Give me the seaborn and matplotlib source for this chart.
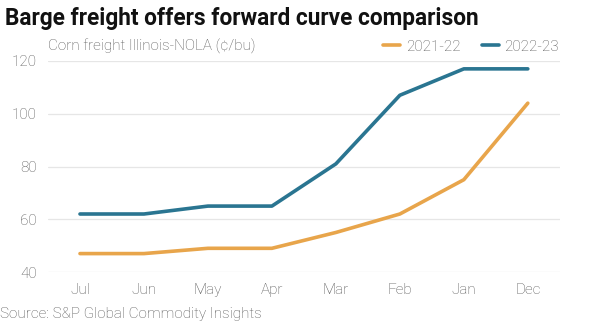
import matplotlib
matplotlib.use("Agg")
import matplotlib.pyplot as plt
import seaborn as sns
import pandas as pd
from matplotlib.lines import Line2D

months = ["Jul", "Jun", "May", "Apr", "Mar", "Feb", "Jan", "Dec"]
s2021 = [47, 47, 49, 49, 55, 62, 75, 104]
s2022 = [62, 62, 65, 65, 81, 107, 117, 117]
series_names = ["2021-22", "2022-23"]
yticks = [40, 60, 80, 100, 120]

sns.set_theme(style="white")
plt.rcParams['font.family'] = ['Roboto', 'DejaVu Sans']

df = pd.DataFrame({
    "month": months * 2,
    "x": list(range(len(months))) * 2,
    "value": s2021 + s2022,
    "series": [series_names[0]] * len(months) + [series_names[1]] * len(months),
})

TXT = "#555555"
fig = plt.figure(figsize=(6, 3.33), dpi=100)
ax = fig.add_axes([0.08, 0.183, 0.853, 0.634])
palette = {"2021-22": "#E8A54B", "2022-23": "#2A7591"}
sns.lineplot(data=df, x="x", y="value", hue="series", palette=palette,
             linewidth=2.6, ax=ax, legend=False)

ax.set_xlim(-0.5, len(months) - 0.5)
ax.set_ylim(40, 120)
ax.set_yticks(yticks)
ax.set_xticks(range(len(months)))
ax.set_xticklabels(months)
ax.grid(axis="y", color="#E6E6E6", linewidth=0.9)
ax.grid(axis="x", visible=False)
for s in ax.spines.values():
    s.set_visible(False)
ax.tick_params(axis="both", length=0, labelsize=11, labelcolor=TXT)
ax.tick_params(axis="y", pad=8)
ax.tick_params(axis="x", pad=8)
for lab in ax.get_xticklabels() + ax.get_yticklabels():
    lab.set_fontweight("light")
ax.set_xlabel("")
ax.set_ylabel("")

fig.text(0.008, 0.945, "Barge freight offers forward curve comparison",
         fontsize=16.3, fontweight="bold", color="#111111", va="center")
fig.text(0.08, 0.86, "Corn freight Illinois-NOLA (¢/bu)",
         fontsize=11, color=TXT, fontweight="light", va="center")
fig.text(0.0, 0.058, "Source: S&P Global Commodity Insights",
         fontsize=11, color=TXT, fontweight="light", va="center")

handles = [Line2D([0], [0], color=palette[n], lw=2.6) for n in series_names]
leg = fig.legend(handles, series_names, loc="center right",
                 bbox_to_anchor=(0.955, 0.86), ncol=2, frameon=False,
                 handlelength=1.1, handletextpad=0.4, columnspacing=1.4,
                 fontsize=11)
for t in leg.get_texts():
    t.set_color(TXT)
    t.set_fontweight("light")

fig.savefig("out.png", dpi=100, facecolor="white")
